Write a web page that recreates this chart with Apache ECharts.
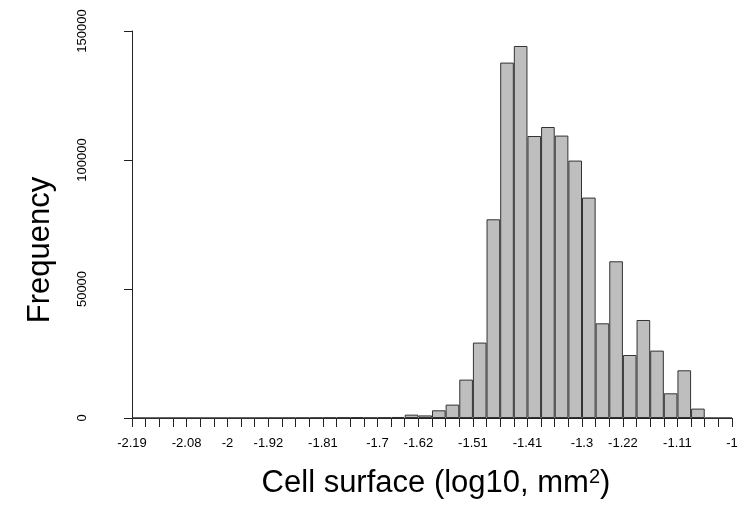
<!DOCTYPE html>
<html>
<head>
<meta charset="utf-8">
<script src="https://cdn.jsdelivr.net/npm/echarts@6/dist/echarts.min.js"></script>
<style>
  html, body { margin: 0; padding: 0; background: #fff; }
  #chart { width: 751px; height: 506px; }
</style>
</head>
<body>
<div id="chart"></div>
<script>
// Histogram counts per bin (44 equal bins from -2.19 to -1)
const counts = [
  1, 0, 2, 3, 4, 6, 10, 14, 20, 30, 40,
  60, 80, 110, 150, 200, 280, 120, 200, 400, 1300, 1000,
  2985, 5190, 14880, 29230, 77020, 137750, 144190, 109300, 112790, 109460, 99770,
  85430, 36700, 60740, 24420, 37990, 26120, 9570, 18490, 3640, 0, 0
];
// Bin-boundary positions that carry a label, and their labels
const tickLabelIndex = [0, 4, 7, 10, 14, 18, 21, 25, 29, 33, 36, 40, 44];
const tickLabels = ['-2.19', '-2.08', '-2', '-1.92', '-1.81', '-1.7', '-1.62', '-1.51', '-1.41', '-1.3', '-1.22', '-1.11', '-1'];
const yTicks = [0, 50000, 100000, 150000];
const xTitle = 'Cell surface (log10, mm{sup|2})';
const yTitle = 'Frequency';

const binIds = counts.map((_, i) => String(i));
const FONT = '"Liberation Sans", Arial, Helvetica, sans-serif';

const chart = echarts.init(document.getElementById('chart'), null, { renderer: 'canvas' });
chart.setOption({
  animation: false,
  backgroundColor: '#ffffff',
  grid: { left: 132, right: 19, top: 31, bottom: 88, containLabel: false, outerBoundsMode: 'none' },
  xAxis: [
    {
      type: 'category', data: binIds, position: 'top', show: false, boundaryGap: true
    },
    {
      type: 'value', position: 'bottom', min: 0, max: binIds.length, interval: 1,
      axisLine: { show: true, onZero: false, lineStyle: { color: '#222', width: 1 } },
      axisTick: { show: true, length: 9, lineStyle: { color: '#222', width: 1 } },
      splitLine: { show: false },
      axisLabel: {
        show: true, margin: 19, fontSize: 13, fontFamily: FONT, color: '#000',
        showMinLabel: true, showMaxLabel: true, hideOverlap: false,
        formatter: function (v) {
          const k = tickLabelIndex.indexOf(Math.round(v));
          return k >= 0 ? tickLabels[k] : '';
        }
      }
    }
  ],
  yAxis: {
    type: 'value', min: yTicks[0], max: yTicks[yTicks.length - 1], interval: yTicks[1] - yTicks[0],
    offset: 24,
    axisLine: { show: true, lineStyle: { color: '#222', width: 1 } },
    axisTick: { show: true, length: 8, lineStyle: { color: '#222', width: 1 } },
    splitLine: { show: false },
    axisLabel: {
      rotate: 90, margin: 19, fontSize: 13, fontFamily: FONT, color: '#000',
      showMinLabel: true, showMaxLabel: true, hideOverlap: false,
      formatter: function (v) { return String(v); }
    }
  },
  series: [{
    type: 'bar', xAxisIndex: 0, yAxisIndex: 0,
    data: counts,
    barWidth: '100%', barCategoryGap: '0%',
    itemStyle: { color: '#bebebe', borderColor: '#333', borderWidth: 1 },
    emphasis: { disabled: true }
  }],
  graphic: [
    {
      type: 'text', x: 40.5, y: 250, rotation: Math.PI / 2,
      style: {
        text: yTitle, fontSize: 31, fontFamily: FONT, fill: '#000',
        textAlign: 'center', textVerticalAlign: 'middle', align: 'center', verticalAlign: 'middle'
      }
    },
    {
      type: 'text', x: 436, y: 483,
      style: {
        text: xTitle, fontSize: 31, fontFamily: FONT, fill: '#000',
        textAlign: 'center', textVerticalAlign: 'middle', align: 'center', verticalAlign: 'middle',
        rich: { sup: { fontSize: 20, fontFamily: FONT, fill: '#000', verticalAlign: 'top' } }
      }
    }
  ]
});
</script>
</body>
</html>
